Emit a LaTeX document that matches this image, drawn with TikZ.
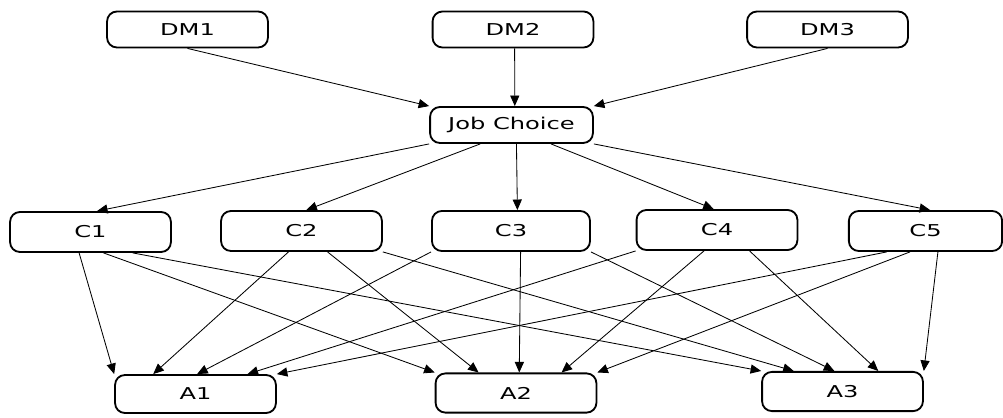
\documentclass[tikz,border=0pt]{standalone}
\usepackage{fontspec}
\setmainfont[FakeStretch=1.48]{DejaVu Sans}
\usetikzlibrary{arrows.meta,calc}
\tikzset{
  box/.style={draw, line width=1.3pt, rounded corners=7pt, minimum width=4.02cm,
    minimum height=1cm, inner sep=0pt, font=\fontsize{11.6}{13}\selectfont},
  topbox/.style={box, minimum height=0.9cm},
}
\begin{document}
\begin{tikzpicture}[x=0.025cm, y=-0.025cm, >={Triangle[length=7.5pt,width=6.5pt]}]
      \useasboundingbox (0,0) rectangle (1003,418);
      \draw
        (187.5,29.5) node[topbox] (DM1){DM1}
        (513,29.5) node[topbox] (DM2){DM2}
        (827.5,29.5) node[topbox] (DM3){DM3}
        (511.5,125) node[topbox, minimum width=4.07cm] (JC){Job Choice}
        (90.5,232) node[box] (C1){C1}
        (301.5,231) node[box] (C2){C2}
        (511,231) node[box, minimum width=3.95cm] (C3){C3}
        (717,230) node[box] (C4){C4}
        (925.5,231) node[box, minimum width=3.83cm] (C5){C5}
        (195.5,394) node[box, minimum height=0.95cm] (A1){A1}
        (516,393) node[box, minimum height=0.98cm] (A2){A2}
        (842.5,391.5) node[box, minimum height=0.98cm] (A3){A3};
      \begin{scope}[->, line width=0.6pt]
        \draw (DM1.south) to (JC.north west);
        \draw ($(DM2.south west)!.51!(DM2.south east)$) to ($(JC.north west)!.52!(JC.north east)$);
        \draw (DM3.south) to (JC.north east);
        \draw (JC.south west) to ($(C1.north west)!.54!(C1.north east)$);
        \draw ($(JC.south west)!.31!(JC.south east)$) to ($(C2.north west)!.53!(C2.north east)$);
        \draw ($(JC.south west)!.53!(JC.south east)$) to ($(C3.north west)!.54!(C3.north east)$);
        \draw ($(JC.south west)!.74!(JC.south east)$) to ($(C4.north west)!.48!(C4.north east)$);
        \draw (JC.south east) to ($(C5.north west)!.53!(C5.north east)$);
        \draw ($(C1.south west)!.43!(C1.south east)$) to (A1.north west);
        \draw ($(C1.south west)!.58!(C1.south east)$) to (A2.north west);
        \draw ($(C1.south west)!.76!(C1.south east)$) to (A3.north west);
        \draw ($(C2.south west)!.42!(C2.south east)$) to ($(A1.north west)!.24!(A1.north east)$);
        \draw ($(C2.south west)!.66!(C2.south east)$) to ($(A2.north west)!.27!(A2.north east)$);
        \draw (C2.south east) to ($(A3.north west)!.2!(A3.north east)$);
        \draw (C3.south west) to ($(A1.north west)!.51!(A1.north east)$);
        \draw ($(C3.south west)!.56!(C3.south east)$) to ($(A2.north west)!.52!(A2.north east)$);
        \draw (C3.south east) to ($(A3.north west)!.45!(A3.north east)$);
        \draw (C4.south west) to ($(A1.north west)!.82!(A1.north east)$);
        \draw ($(C4.south west)!.42!(C4.south east)$) to ($(A2.north west)!.78!(A2.north east)$);
        \draw ($(C4.south west)!.7!(C4.south east)$) to ($(A3.north west)!.72!(A3.north east)$);
        \draw ($(C5.south west)!.25!(C5.south east)$) to (A1.north east);
        \draw ($(C5.south west)!.4!(C5.south east)$) to (A2.north east);
        \draw ($(C5.south west)!.58!(C5.south east)$) to (A3.north east);
      \end{scope}
    \end{tikzpicture}
\end{document}
